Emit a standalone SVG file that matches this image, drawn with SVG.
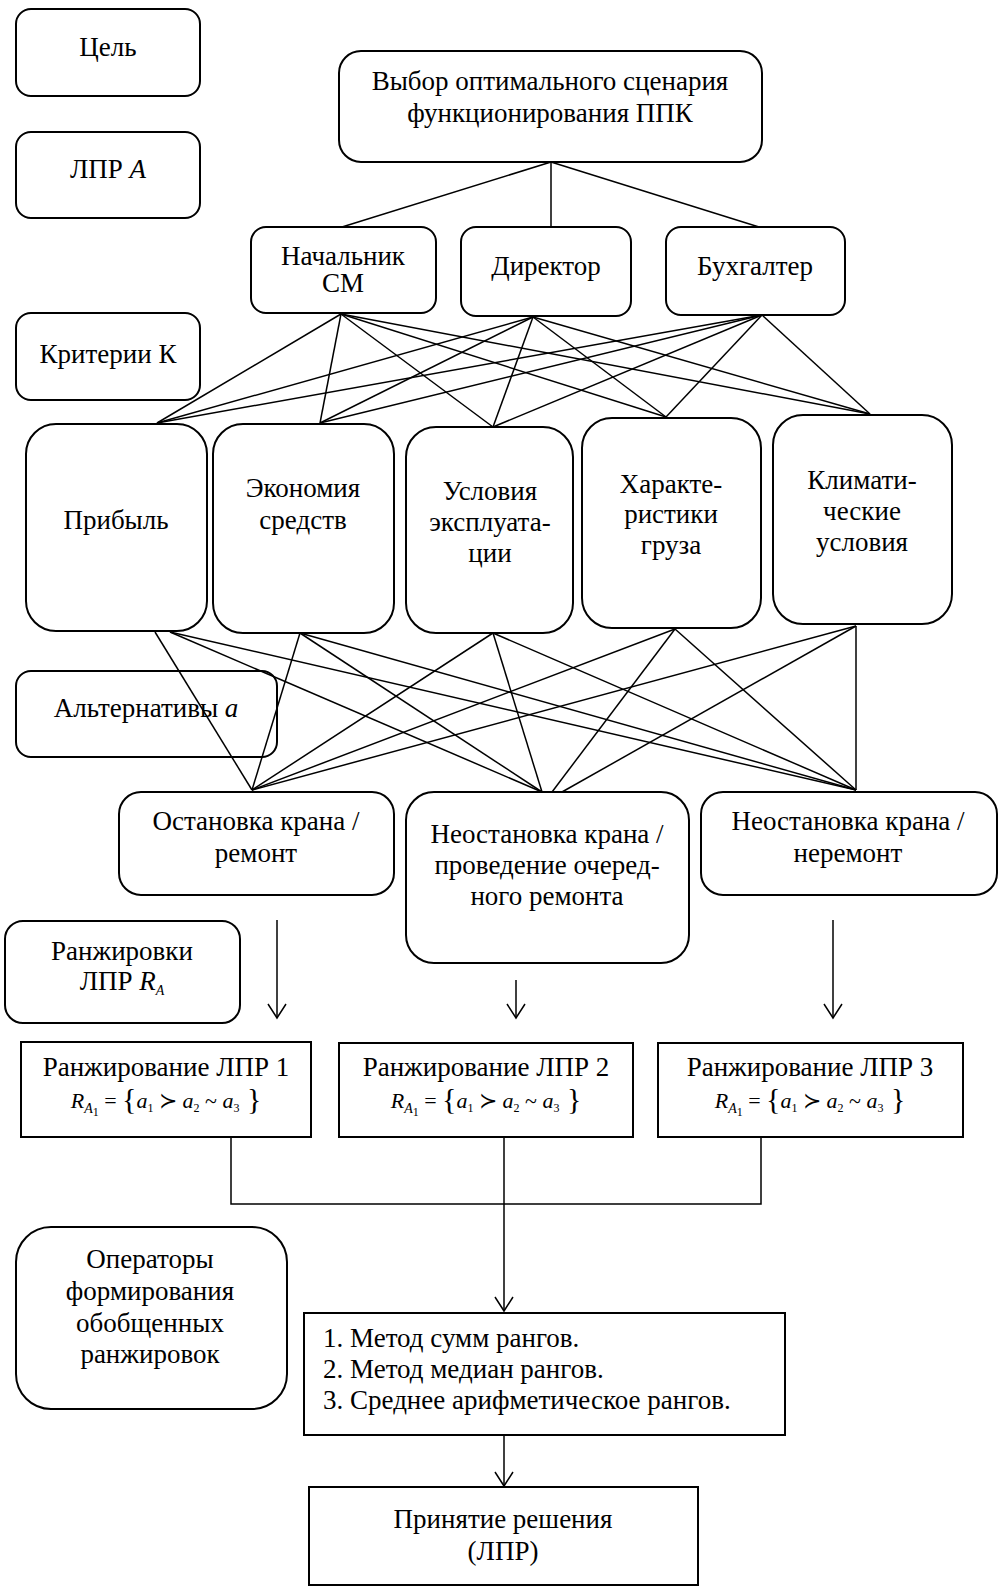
<svg xmlns="http://www.w3.org/2000/svg" width="1001" height="1596" viewBox="0 0 1001 1596">
<style>
text{font-family:"Liberation Serif","Times New Roman",serif;font-size:27px;fill:#000;text-anchor:middle}
.box{fill:#fff;stroke:#000;stroke-width:2}
.ln{stroke:#000;stroke-width:1.5;fill:none}
.ar{stroke:#000;stroke-width:1.5;fill:none;marker-end:url(#v)}
.f{font-size:22px}
.i{font-style:italic}
.s1{font-size:14px;font-style:italic}
.s2{font-size:12px}
.br{font-size:30px}
.lt{text-anchor:start}
</style>
<defs>
<marker id="v" markerUnits="userSpaceOnUse" markerWidth="20" markerHeight="20" viewBox="0 0 20 20" refX="15" refY="10" orient="auto">
<path d="M1,1 L15,10 L1,19" fill="none" stroke="#000" stroke-width="1.5"/>
</marker>
</defs>
<rect width="1001" height="1596" fill="#fff"/>
<g id="n-goal-label"><rect class="box" x="16" y="9" width="184" height="87" rx="15"/><text x="108" y="56">Цель</text></g>
<g id="n-lpr-label"><rect class="box" x="16" y="132" width="184" height="86" rx="15"/><text x="108" y="178">ЛПР <tspan class="i">A</tspan></text></g>
<g id="n-crit-label"><rect class="box" x="16" y="313" width="184" height="87" rx="15"/><text x="108" y="363">Критерии К</text></g>
<g id="n-goal"><rect class="box" x="339" y="51" width="423" height="111" rx="22"/><text x="550" y="90">Выбор оптимального сценария</text><text x="550" y="122">функционирования ППК</text></g>
<g id="n-nach"><rect class="box" x="251" y="227" width="185" height="86" rx="15"/><text x="343" y="265">Начальник</text><text x="343" y="292">СМ</text></g>
<g id="n-dir"><rect class="box" x="461" y="227" width="170" height="89" rx="15"/><text x="546" y="275">Директор</text></g>
<g id="n-buh"><rect class="box" x="666" y="227" width="179" height="88" rx="15"/><text x="755" y="275">Бухгалтер</text></g>
<g id="n-prib"><rect class="box" x="26" y="424" width="181" height="207" rx="30"/><text x="116" y="529">Прибыль</text></g>
<g id="n-econ"><rect class="box" x="213" y="424" width="181" height="209" rx="30"/><text x="303" y="497">Экономия</text><text x="303" y="529">средств</text></g>
<g id="n-usl"><rect class="box" x="406" y="427" width="167" height="206" rx="30"/><text x="490" y="500">Условия</text><text x="490" y="531">эксплуата-</text><text x="490" y="562">ции</text></g>
<g id="n-har"><rect class="box" x="582" y="418" width="179" height="210" rx="30"/><text x="671" y="493">Характе-</text><text x="671" y="523">ристики</text><text x="671" y="554">груза</text></g>
<g id="n-klim"><rect class="box" x="773" y="415" width="179" height="209" rx="30"/><text x="862" y="489">Климати-</text><text x="862" y="520">ческие</text><text x="862" y="551">условия</text></g>
<g id="n-alt-label"><rect class="box" x="16" y="671" width="261" height="86" rx="15"/><text x="146" y="717">Альтернативы <tspan class="i">a</tspan></text></g>
<g id="n-alt1"><rect class="box" x="119" y="792" width="275" height="103" rx="22"/><text x="256" y="830">Остановка крана /</text><text x="256" y="862">ремонт</text></g>
<g id="n-alt2"><rect class="box" x="406" y="792" width="283" height="171" rx="28"/><text x="547" y="843">Неостановка крана /</text><text x="547" y="874">проведение очеред-</text><text x="547" y="905">ного ремонта</text></g>
<g id="n-alt3"><rect class="box" x="701" y="792" width="296" height="103" rx="22"/><text x="848" y="830">Неостановка крана /</text><text x="848" y="862">неремонт</text></g>
<g id="n-rank-label"><rect class="box" x="5" y="921" width="235" height="102" rx="18"/><text x="122" y="960">Ранжировки</text><text x="122" y="990">ЛПР <tspan class="i">R</tspan><tspan class="s1" dy="5">A</tspan></text></g>
<g id="n-rank1"><rect class="box" x="21" y="1042" width="290" height="95"/><text x="166" y="1076">Ранжирование ЛПР 1</text>
<text class="f" x="166" y="1108"><tspan class="i">R</tspan><tspan class="s1" dy="5">A</tspan><tspan class="s2" dy="3">1</tspan><tspan dy="-8"> = </tspan><tspan class="br" dy="1">{</tspan><tspan class="i" dy="-1">a</tspan><tspan class="s2" dy="4">1</tspan><tspan dy="-4"> ≻ </tspan><tspan class="i">a</tspan><tspan class="s2" dy="4">2</tspan><tspan dy="-4"> ~ </tspan><tspan class="i">a</tspan><tspan class="s2" dy="4">3</tspan><tspan class="br" dy="-3"> }</tspan></text></g>
<g id="n-rank2"><rect class="box" x="339" y="1043" width="294" height="94"/><text x="486" y="1076">Ранжирование ЛПР 2</text>
<text class="f" x="486" y="1108"><tspan class="i">R</tspan><tspan class="s1" dy="5">A</tspan><tspan class="s2" dy="3">1</tspan><tspan dy="-8"> = </tspan><tspan class="br" dy="1">{</tspan><tspan class="i" dy="-1">a</tspan><tspan class="s2" dy="4">1</tspan><tspan dy="-4"> ≻ </tspan><tspan class="i">a</tspan><tspan class="s2" dy="4">2</tspan><tspan dy="-4"> ~ </tspan><tspan class="i">a</tspan><tspan class="s2" dy="4">3</tspan><tspan class="br" dy="-3"> }</tspan></text></g>
<g id="n-rank3"><rect class="box" x="658" y="1043" width="305" height="94"/><text x="810" y="1076">Ранжирование ЛПР 3</text>
<text class="f" x="810" y="1108"><tspan class="i">R</tspan><tspan class="s1" dy="5">A</tspan><tspan class="s2" dy="3">1</tspan><tspan dy="-8"> = </tspan><tspan class="br" dy="1">{</tspan><tspan class="i" dy="-1">a</tspan><tspan class="s2" dy="4">1</tspan><tspan dy="-4"> ≻ </tspan><tspan class="i">a</tspan><tspan class="s2" dy="4">2</tspan><tspan dy="-4"> ~ </tspan><tspan class="i">a</tspan><tspan class="s2" dy="4">3</tspan><tspan class="br" dy="-3"> }</tspan></text></g>
<g id="n-oper-label"><rect class="box" x="16" y="1227" width="271" height="182" rx="35"/><text x="150" y="1268">Операторы</text><text x="150" y="1300">формирования</text><text x="150" y="1332">обобщенных</text><text x="150" y="1363">ранжировок</text></g>
<g id="n-methods"><rect class="box" x="304" y="1313" width="481" height="122"/><text class="lt" x="323" y="1347">1. Метод сумм рангов.</text><text class="lt" x="323" y="1378">2. Метод медиан рангов.</text><text class="lt" x="323" y="1409">3. Среднее арифметическое рангов.</text></g>
<g id="n-decision"><rect class="box" x="309" y="1487" width="389" height="98"/><text x="503" y="1528">Принятие решения</text><text x="503" y="1560">(ЛПР)</text></g>
<g id="connectors">
<line class="ln" x1="551" y1="162" x2="342" y2="227"/>
<line class="ln" x1="551" y1="162" x2="551" y2="227"/>
<line class="ln" x1="551" y1="162" x2="759" y2="227"/>
<line class="ln" x1="341" y1="314" x2="157" y2="423"/>
<line class="ln" x1="341" y1="314" x2="320" y2="423"/>
<line class="ln" x1="341" y1="314" x2="493" y2="427"/>
<line class="ln" x1="341" y1="314" x2="666" y2="417"/>
<line class="ln" x1="341" y1="314" x2="870" y2="414"/>
<line class="ln" x1="533" y1="317" x2="157" y2="423"/>
<line class="ln" x1="533" y1="317" x2="320" y2="423"/>
<line class="ln" x1="533" y1="317" x2="493" y2="427"/>
<line class="ln" x1="533" y1="317" x2="666" y2="417"/>
<line class="ln" x1="533" y1="317" x2="870" y2="414"/>
<line class="ln" x1="762" y1="315" x2="157" y2="423"/>
<line class="ln" x1="762" y1="315" x2="320" y2="423"/>
<line class="ln" x1="762" y1="315" x2="493" y2="427"/>
<line class="ln" x1="762" y1="315" x2="666" y2="417"/>
<line class="ln" x1="762" y1="315" x2="870" y2="414"/>
<line class="ln" x1="155" y1="632" x2="252" y2="790"/>
<line class="ln" x1="170" y1="632" x2="542" y2="792"/>
<line class="ln" x1="170" y1="632" x2="856" y2="790"/>
<line class="ln" x1="300" y1="633" x2="252" y2="790"/>
<line class="ln" x1="300" y1="633" x2="542" y2="792"/>
<line class="ln" x1="300" y1="633" x2="856" y2="790"/>
<line class="ln" x1="493" y1="633" x2="252" y2="790"/>
<line class="ln" x1="493" y1="633" x2="542" y2="792"/>
<line class="ln" x1="493" y1="633" x2="856" y2="790"/>
<line class="ln" x1="675" y1="629" x2="252" y2="790"/>
<line class="ln" x1="675" y1="629" x2="552" y2="792"/>
<line class="ln" x1="675" y1="629" x2="856" y2="790"/>
<line class="ln" x1="856" y1="626" x2="252" y2="790"/>
<line class="ln" x1="856" y1="626" x2="562" y2="792"/>
<line class="ln" x1="856" y1="626" x2="856" y2="790"/>
<line class="ar" x1="277" y1="920" x2="277" y2="1018"/>
<line class="ar" x1="516" y1="980" x2="516" y2="1018"/>
<line class="ar" x1="833" y1="920" x2="833" y2="1018"/>
<polyline class="ln" points="231,1137 231,1204 761,1204 761,1137"/>
<line class="ar" x1="504" y1="1137" x2="504" y2="1311"/>
<line class="ar" x1="504" y1="1435" x2="504" y2="1486"/>
</g>
</svg>
